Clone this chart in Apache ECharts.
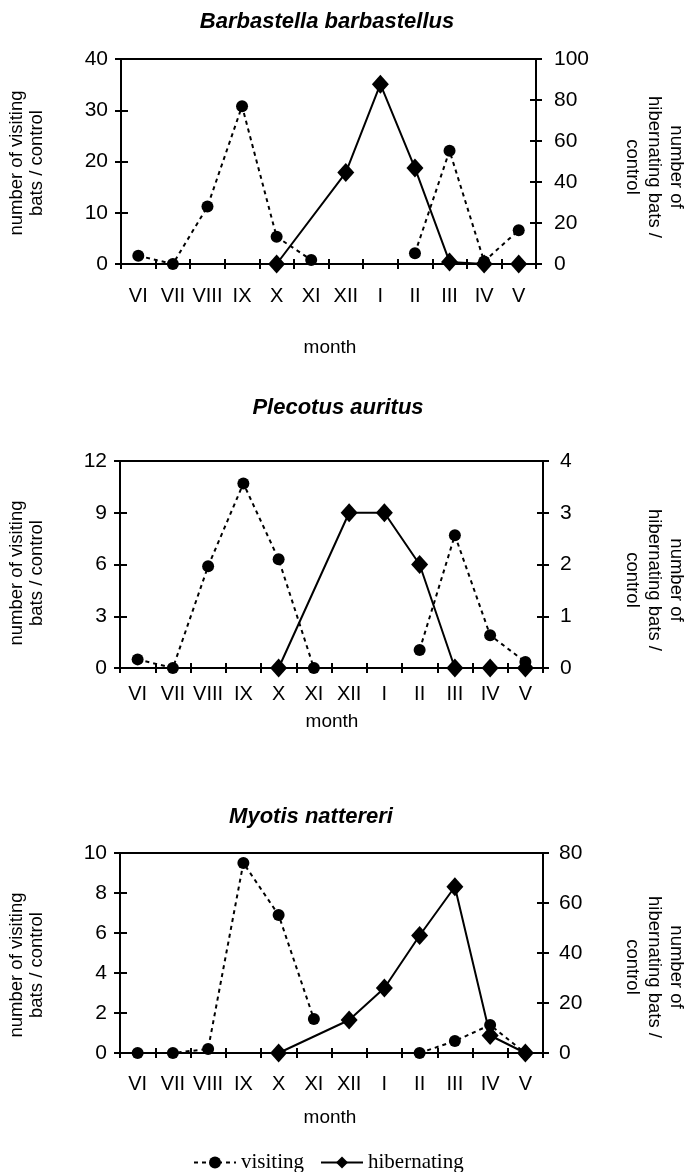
<!DOCTYPE html>
<html>
<head>
<meta charset="utf-8">
<script src="https://cdn.jsdelivr.net/npm/echarts@6/dist/echarts.min.js"></script>
<style>
html,body{margin:0;padding:0;background:#fff;}
#chart{width:688px;height:1172px;}
</style>
</head>
<body>
<div id="chart"></div>
<script>
// ---------- data ----------
const months = ['VI','VII','VIII','IX','X','XI','XII','I','II','III','IV','V'];
const speciesTitles = ['Barbastella barbastellus', 'Plecotus auritus', 'Myotis nattereri'];

const visitingBarbastella    = [1.6, 0, 11.2, 30.8, 5.3, 0.8, null, null, 2.1, 22.1, 0.5, 6.6];
const hibernatingBarbastella = [null, null, null, null, 0, null, 44.6, 87.7, 46.8, 1, 0, 0];

const visitingPlecotus    = [0.5, 0, 5.9, 10.7, 6.3, 0, null, null, 1.05, 7.7, 1.9, 0.35];
const hibernatingPlecotus = [null, null, null, null, 0, null, 3, 3, 2, 0, 0, 0];

const visitingMyotis    = [0, 0, 0.2, 9.5, 6.9, 1.7, null, null, 0, 0.6, 1.4, 0];
const hibernatingMyotis = [null, null, null, null, 0, null, 13.2, 26, 47, 66.5, 7, 0];

const leftMax = [40, 12, 10], leftInterval = [10, 3, 2];
const rightMax = [100, 4, 80], rightInterval = [20, 1, 20];

const leftName = 'number of visiting\nbats / control';
const rightName = 'number of\nhibernating bats /\ncontrol';
const xName = 'month';
const legendNames = ['visiting', 'hibernating'];

// ---------- layout ----------
const visitingAll = [visitingBarbastella, visitingPlecotus, visitingMyotis];
const hibernatingAll = [hibernatingBarbastella, hibernatingPlecotus, hibernatingMyotis];
const gridBoxes = [
  {left:121, right:152, top:59, height:205},
  {left:120, right:145, top:461, height:207},
  {left:120, right:145, top:853, height:200}
];
const xLabelMargin = [22, 16, 21];
const rightLabelMargin = [18, 17, 16];
const titlePos = [{x:327, y:22}, {x:338, y:408}, {x:311, y:817}];
const monthPos = [{x:330, y:348}, {x:332, y:722}, {x:330, y:1118}];
const namePos = [
  {lx:27, ly:163, rx:654, ry:167},
  {lx:27, ly:573, rx:654, ry:580},
  {lx:27, ly:965, rx:654, ry:967}
];

const FONT = '"Liberation Sans", Arial, sans-serif';
const BLACK = '#000';

const grid = [], xAxis = [], yAxis = [], series = [], graphic = [];

for (let i = 0; i < 3; i++) {
  const g = gridBoxes[i];
  grid.push({left:g.left, right:g.right, top:g.top, height:g.height, show:true,
    borderColor:BLACK, borderWidth:2, backgroundColor:'transparent'});

  // main x axis: line + labels
  xAxis.push({type:'category', gridIndex:i, position:'bottom', data:months, boundaryGap:true,
    axisLine:{show:true, onZero:false, lineStyle:{color:BLACK, width:2}},
    axisTick:{show:false},
    axisLabel:{show:true, color:BLACK, fontSize:20, fontFamily:FONT, margin:xLabelMargin[i], interval:0},
    splitLine:{show:false}});
  // tick copy shifted up so ticks cross the axis line
  xAxis.push({type:'category', gridIndex:i, position:'bottom', data:months, boundaryGap:true, offset:-5,
    axisLine:{show:false, onZero:false},
    axisTick:{show:true, inside:false, length:10, lineStyle:{color:BLACK, width:2}},
    axisLabel:{show:false}, splitLine:{show:false}});

  // left y axis
  yAxis.push({type:'value', gridIndex:i, position:'left', min:0, max:leftMax[i], interval:leftInterval[i],
    axisLine:{show:true, onZero:false, lineStyle:{color:BLACK, width:2}},
    axisTick:{show:false},
    axisLabel:{color:BLACK, fontSize:21, fontFamily:FONT, margin:13},
    splitLine:{show:false}});
  yAxis.push({type:'value', gridIndex:i, position:'left', min:0, max:leftMax[i], interval:leftInterval[i], offset:-7,
    axisLine:{show:false, onZero:false},
    axisTick:{show:true, inside:false, length:13, lineStyle:{color:BLACK, width:2}},
    axisLabel:{show:false}, splitLine:{show:false}});
  // right y axis
  yAxis.push({type:'value', gridIndex:i, position:'right', min:0, max:rightMax[i], interval:rightInterval[i],
    axisLine:{show:true, onZero:false, lineStyle:{color:BLACK, width:2}},
    axisTick:{show:false},
    axisLabel:{color:BLACK, fontSize:21, fontFamily:FONT, margin:rightLabelMargin[i]},
    splitLine:{show:false}});
  yAxis.push({type:'value', gridIndex:i, position:'right', min:0, max:rightMax[i], interval:rightInterval[i], offset:-6,
    axisLine:{show:false, onZero:false},
    axisTick:{show:true, inside:false, length:12, lineStyle:{color:BLACK, width:2}},
    axisLabel:{show:false}, splitLine:{show:false}});

  series.push({name:legendNames[0], type:'line', xAxisIndex:2*i, yAxisIndex:4*i,
    data:visitingAll[i], connectNulls:false, symbol:'circle', symbolSize:12,
    itemStyle:{color:BLACK},
    lineStyle:{color:BLACK, width:2, type:[4,4]}, z:3});
  series.push({name:legendNames[1], type:'line', xAxisIndex:2*i, yAxisIndex:4*i+2,
    data:hibernatingAll[i], connectNulls:true, symbol:'diamond', symbolSize:[17,19],
    itemStyle:{color:BLACK},
    lineStyle:{color:BLACK, width:2, type:'solid'}, z:4});

  graphic.push({type:'text', x:titlePos[i].x, y:titlePos[i].y,
    style:{text:speciesTitles[i], fill:BLACK, font:'italic bold 22px ' + FONT, textAlign:'center', textVerticalAlign:'middle'}});
  graphic.push({type:'text', x:monthPos[i].x, y:monthPos[i].y,
    style:{text:xName, fill:BLACK, font:'19px ' + FONT, textAlign:'center', textVerticalAlign:'middle'}});
  graphic.push({type:'text', x:namePos[i].lx, y:namePos[i].ly, rotation:Math.PI/2,
    style:{text:leftName, fill:BLACK, font:'18.5px ' + FONT, lineHeight:20, textAlign:'center', textVerticalAlign:'middle'}});
  graphic.push({type:'text', x:namePos[i].rx, y:namePos[i].ry, rotation:-Math.PI/2,
    style:{text:rightName, fill:BLACK, font:'18.5px ' + FONT, lineHeight:22, textAlign:'center', textVerticalAlign:'middle'}});
}

const chart = echarts.init(document.getElementById('chart'), null, {renderer:'canvas'});
chart.setOption({
  animation:false,
  backgroundColor:'#fff',
  grid, xAxis, yAxis, series, graphic,
  legend:{data:legendNames, left:188, top:1147, itemWidth:42, itemHeight:15, itemGap:16,
    textStyle:{color:BLACK, fontSize:21, fontFamily:'"Liberation Serif", "Times New Roman", serif'}}
});
</script>
</body>
</html>
